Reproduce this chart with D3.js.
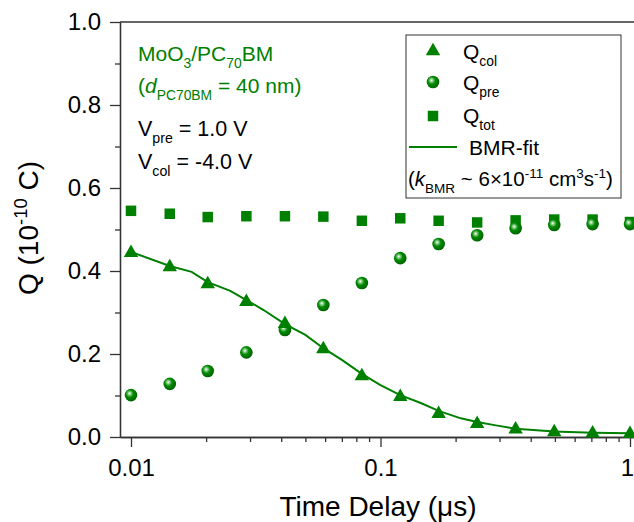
<!DOCTYPE html>
<html>
<head>
<meta charset="utf-8">
<script src="https://cdn.jsdelivr.net/npm/d3@7"></script>
<style>
  body { margin: 0; background: #fff; }
  svg text { font-family: "Liberation Sans", Arial, sans-serif; }
</style>
</head>
<body>
<svg width="634" height="522"></svg>
<script>
// time delays (us)
var times = [0.01, 0.0143, 0.0203, 0.029, 0.0414, 0.059, 0.0842, 0.12, 0.171, 0.244, 0.348, 0.497, 0.708, 1.0]
var qCol = [0.446, 0.412, 0.371, 0.328, 0.275, 0.214, 0.149, 0.099, 0.058, 0.034, 0.021, 0.014, 0.011, 0.010]
var qPre = [0.101, 0.128, 0.159, 0.204, 0.258, 0.318, 0.371, 0.431, 0.465, 0.486, 0.503, 0.511, 0.513, 0.513]
var qTot = [0.545, 0.538, 0.530, 0.532, 0.532, 0.531, 0.521, 0.527, 0.521, 0.517, 0.522, 0.524, 0.524, 0.518]
var fitT = [0.01, 0.0143, 0.0175, 0.0203, 0.025, 0.029, 0.034, 0.0414, 0.05, 0.059, 0.07, 0.0842, 0.1, 0.12, 0.145, 0.171, 0.21, 0.244, 0.29, 0.348, 0.497, 0.708, 1.0]
var fitQ = [0.446, 0.412, 0.398, 0.373, 0.352, 0.330, 0.306, 0.272, 0.246, 0.214, 0.186, 0.152, 0.125, 0.101, 0.082, 0.063, 0.045, 0.036, 0.028, 0.020, 0.013, 0.010, 0.009]
var yTicks = [0, 0.2, 0.4, 0.6, 0.8, 1.0]
var yMinor = [0.1, 0.3, 0.5, 0.7, 0.9]
var xTicks = [0.01, 0.1, 1]
var xTickLabels = ["0.01", "0.1", "1"]
var xMinor = [0.02, 0.03, 0.04, 0.05, 0.06, 0.07, 0.08, 0.09, 0.2, 0.3, 0.4, 0.5, 0.6, 0.7, 0.8, 0.9]

var green = "#008000"
var svg = d3.select("svg")

var x = d3.scaleLog().domain([0.01, 1]).range([131, 630])
x.domain([x.invert(120), x.invert(636)]).range([120, 636])
var y = d3.scaleLinear().domain([0, 1]).range([437, 22])

// gradient for the sphere markers
var defs = svg.append("defs")
var grad = defs.append("radialGradient").attr("id", "ball")
  .attr("cx", "40%").attr("cy", "40%").attr("r", "60%").attr("fx", "38%").attr("fy", "36%")
grad.append("stop").attr("offset", "0%").attr("stop-color", "#ffffff")
grad.append("stop").attr("offset", "22%").attr("stop-color", "#7fc97f")
grad.append("stop").attr("offset", "50%").attr("stop-color", "#008a00")
grad.append("stop").attr("offset", "100%").attr("stop-color", "#006400")

// axes
var yAxis = svg.append("g").attr("transform", "translate(120,0)")
  .call(d3.axisLeft(y).tickValues(yTicks).tickFormat(d3.format(".1f")).tickSize(10).tickPadding(9).tickSizeOuter(0))
yAxis.selectAll("text").style("font-size", "24px").attr("fill", "#000")
svg.append("g").attr("transform", "translate(120,0)")
  .call(d3.axisLeft(y).tickValues(yMinor).tickFormat("").tickSize(5).tickSizeOuter(0))

var xAxis = svg.append("g").attr("transform", "translate(0,437)")
  .call(d3.axisBottom(x).tickValues(xTicks).tickFormat(function(d, i){ return xTickLabels[i] }).tickSize(10).tickPadding(12).tickSizeOuter(0))
xAxis.selectAll("text").style("font-size", "24px").attr("fill", "#000")
  .attr("dx", function(d){ return d == 1 ? -3 : 0 })
svg.append("g").attr("transform", "translate(0,437)")
  .call(d3.axisBottom(x).tickValues(xMinor).tickFormat("").tickSize(5).tickSizeOuter(0))

svg.selectAll(".domain, .tick line").attr("stroke", "#333").attr("stroke-width", 1.3)

// top frame
svg.append("line").attr("x1", 120).attr("x2", 634).attr("y1", y(1)).attr("y2", y(1))
  .attr("stroke", "#333").attr("stroke-width", 1.3)

// rich text helper: parts = [[text, "sub"|"sup"|"", italic]]
function rich(g, px, py, size, color, parts, anchor) {
  var t = g.append("text").attr("x", px).attr("y", py).style("font-size", size + "px")
    .attr("fill", color).attr("text-anchor", anchor || "start")
  var shift = 0
  parts.forEach(function(p){
    var s = t.append("tspan").text(p[0])
    var want = p[1] == "sub" ? size * 0.32 : (p[1] == "sup" ? -size * 0.38 : 0)
    s.attr("dy", want - shift)
    shift = want
    if (p[1]) s.style("font-size", (size * 0.66) + "px")
    if (p[2]) s.style("font-style", "italic")
  })
  return t
}

// data marks
var tri = d3.symbol().type(d3.symbolTriangle).size(90)
var sq = d3.symbol().type(d3.symbolSquare).size(110)

svg.append("path")
  .datum(fitT.map(function(d, i){ return [d, fitQ[i]] }))
  .attr("fill", "none").attr("stroke", green).attr("stroke-width", 2)
  .attr("d", d3.line().x(function(d){ return x(d[0]) }).y(function(d){ return y(d[1]) }))

svg.append("g").selectAll("path").data(times).enter().append("path")
  .attr("d", sq).attr("fill", green)
  .attr("transform", function(d, i){ return "translate(" + x(d) + "," + y(qTot[i]) + ")" })

svg.append("g").selectAll("circle").data(times).enter().append("circle")
  .attr("cx", function(d){ return x(d) }).attr("cy", function(d, i){ return y(qPre[i]) })
  .attr("r", 6.3).attr("fill", "url(#ball)")

svg.append("g").selectAll("path").data(times).enter().append("path")
  .attr("d", tri).attr("fill", green)
  .attr("transform", function(d, i){ return "translate(" + x(d) + "," + (y(qCol[i]) + 1) + ")" })

// axis titles
rich(svg, 378, 516, 28, "#000", [["Time Delay (\u03bcs)", ""]], "middle")
var yt = svg.append("g").attr("transform", "translate(38,228) rotate(-90)")
rich(yt, 0, 0, 28, "#000", [["Q (10", ""], ["-10", "sup"], [" C)", ""]], "middle")

// annotations
rich(svg, 138, 61, 21, green, [["MoO", ""], ["3", "sub"], ["/PC", ""], ["70", "sub"], ["BM", ""]])
rich(svg, 138, 93, 21, green, [["(", ""], ["d", "", true], ["PC70BM", "sub"], [" = 40 nm)", ""]])
rich(svg, 138, 136, 21.5, "#000", [["V", ""], ["pre", "sub"], [" = 1.0 V", ""]])
rich(svg, 138, 169, 21.5, "#000", [["V", ""], ["col", "sub"], [" = -4.0 V", ""]])

// legend
var lg = svg.append("g")
lg.append("rect").attr("x", 406).attr("y", 35).attr("width", 215).attr("height", 163)
  .attr("fill", "#fff").attr("stroke", "#333").attr("stroke-width", 1)
lg.append("path").attr("d", tri).attr("fill", green).attr("transform", "translate(433,51)")
lg.append("circle").attr("cx", 433).attr("cy", 82).attr("r", 6.3).attr("fill", "url(#ball)")
lg.append("path").attr("d", sq).attr("fill", green).attr("transform", "translate(433,116)")
lg.append("line").attr("x1", 409).attr("x2", 457).attr("y1", 147).attr("y2", 147)
  .attr("stroke", green).attr("stroke-width", 2)
rich(lg, 463, 59, 21, "#000", [["Q", ""], ["col", "sub"]])
rich(lg, 463, 90, 21, "#000", [["Q", ""], ["pre", "sub"]])
rich(lg, 463, 123, 21, "#000", [["Q", ""], ["tot", "sub"]])
rich(lg, 469, 155, 21, "#000", [["BMR-fit", ""]])
rich(lg, 408, 186, 20.5, "#000", [["(", ""], ["k", "", true], ["BMR", "sub"], [" ~ 6\u00d710", ""], ["-11", "sup"], [" cm", ""], ["3", "sup"], ["s", ""], ["-1", "sup"], [")", ""]])
</script>
</body>
</html>
